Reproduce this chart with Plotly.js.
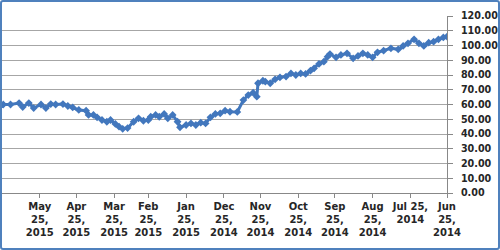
<!DOCTYPE html>
<html>
<head>
<meta charset="utf-8">
<script src="https://cdn.plot.ly/plotly-3.0.1.min.js"></script>
<style>
html,body{margin:0;padding:0;background:#fff;}
#wrap{position:relative;width:500px;height:250px;}
#chart{width:500px;height:250px;}
#frame{position:absolute;left:0;top:0;width:500px;height:250px;box-sizing:border-box;border:2px solid #4f81bd;border-radius:3px;pointer-events:none;}
</style>
</head>
<body>
<div id="wrap"><div id="chart"></div><div id="frame"></div></div>
<script>
var dates = [
"2014-06-25","2014-06-28","2014-07-02","2014-07-06","2014-07-10","2014-07-14","2014-07-18","2014-07-22",
"2014-07-27","2014-07-31","2014-08-04","2014-08-10","2014-08-16","2014-08-21","2014-08-25","2014-08-29",
"2014-09-02","2014-09-06","2014-09-10","2014-09-15","2014-09-20","2014-09-24","2014-09-29","2014-10-01",
"2014-10-04","2014-10-08","2014-10-12","2014-10-15","2014-10-19","2014-10-23","2014-10-27","2014-10-31",
"2014-11-04","2014-11-09","2014-11-13","2014-11-17","2014-11-21","2014-11-23","2014-11-27","2014-11-28",
"2014-12-01","2014-12-05","2014-12-09","2014-12-14","2014-12-20","2014-12-24","2014-12-28","2015-01-01",
"2015-01-05","2015-01-09","2015-01-13","2015-01-17","2015-01-21","2015-01-25","2015-01-30","2015-02-01",
"2015-02-05","2015-02-09","2015-02-12","2015-02-16","2015-02-19","2015-02-23","2015-02-25","2015-03-01",
"2015-03-05","2015-03-09","2015-03-14","2015-03-18","2015-03-21","2015-03-24","2015-03-28","2015-03-31",
"2015-04-04","2015-04-08","2015-04-11","2015-04-15","2015-04-17","2015-04-23","2015-04-28","2015-05-02",
"2015-05-06","2015-05-12","2015-05-16","2015-05-20","2015-05-24","2015-05-30","2015-06-03","2015-06-08",
"2015-06-11","2015-06-18","2015-06-24"
];
var values = [
106.0,105.5,104.2,102.6,101.9,99.7,101.5,104.2,
101.5,99.7,97.4,98.1,96.5,95.4,92.0,93.6,
94.7,92.9,91.3,94.7,93.6,92.0,94.2,92.4,
89.0,87.5,84.5,82.9,80.7,81.1,80.0,81.1,
78.9,78.4,77.1,74.4,75.5,76.1,74.4,65.3,
68.0,66.4,63.0,55.0,55.1,55.8,54.0,53.6,
51.3,47.2,47.7,46.1,47.2,46.1,44.5,48.3,
52.9,50.6,53.6,51.7,52.9,51.7,49.5,49.0,
50.6,48.3,44.0,43.5,45.0,46.8,49.5,48.3,
49.5,51.3,52.9,52.9,55.8,56.3,58.0,59.0,
60.3,60.0,60.3,57.6,60.0,57.6,61.0,58.3,
61.0,60.0,60.0
];
var tickDates = ["2015-05-25","2015-04-25","2015-03-25","2015-02-25","2015-01-25","2014-12-25",
"2014-11-25","2014-10-25","2014-09-25","2014-08-25","2014-07-25","2014-06-25"];
var tickLabels = ["May<br>25,<br>2015","Apr<br>25,<br>2015","Mar<br>25,<br>2015","Feb<br>25,<br>2015",
"Jan<br>25,<br>2015","Dec<br>25,<br>2014","Nov<br>25,<br>2014","Oct<br>25,<br>2014","Sep<br>25,<br>2014",
"Aug<br>25,<br>2014","Jul 25,<br>2014","Jun<br>25,<br>2014"];

var trace = {
  x: dates, y: values, type: 'scatter', mode: 'lines+markers',
  line: {color: '#4277bd', width: 3},
  marker: {symbol: 'diamond', size: 6, color: '#4277bd'},
  hoverinfo: 'skip'
};
var fontBase = {family: '"DejaVu Sans", Verdana, sans-serif', size: 10, color: '#262626', weight: 'bold'};
var yFont = {family: '"DejaVu Sans", Verdana, sans-serif', size: 9.6, color: '#262626', weight: 'bold'};
var layout = {
  width: 500, height: 250,
  margin: {l: 2, r: 53, t: 16, b: 57},
  paper_bgcolor: '#ffffff', plot_bgcolor: '#ffffff',
  showlegend: false,
  font: fontBase,
  xaxis: {
    type: 'date', range: ['2015-06-25', '2014-06-25'],
    tickmode: 'array', tickvals: tickDates, ticktext: tickLabels,
    ticks: 'outside', ticklen: 4, tickcolor: '#888888', tickwidth: 1,
    showline: true, linecolor: '#888888', linewidth: 1,
    showgrid: false, zeroline: false,
    tickfont: fontBase, tickangle: 0
  },
  yaxis: {
    side: 'right', range: [0, 120], dtick: 10, tick0: 0,
    tickformat: '.2f',
    ticks: 'outside', ticklen: 5, tickcolor: '#888888', tickwidth: 1,
    showline: true, linecolor: '#888888', linewidth: 1,
    showgrid: true, gridcolor: '#a6a6a6', gridwidth: 1,
    zeroline: false, tickfont: yFont, ticklabelstandoff: 6
  }
};
Plotly.newPlot('chart', [trace], layout, {staticPlot: true, displayModeBar: false});
</script>
</body>
</html>
